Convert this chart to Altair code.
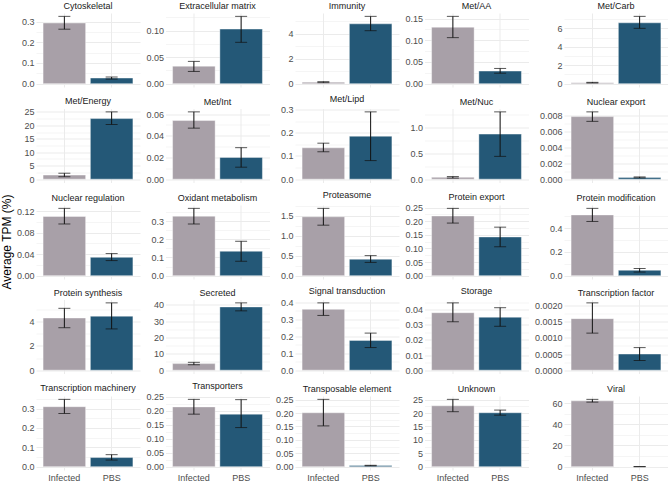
import altair as alt
import pandas as pd

categories = [
    "Cytoskeletal", "Extracellular matrix", "Immunity", "Met/AA", "Met/Carb",
    "Met/Energy", "Met/Int", "Met/Lipd", "Met/Nuc", "Nuclear export",
    "Nuclear regulation", "Oxidant metabolism", "Proteasome", "Protein export", "Protein modification",
    "Protein synthesis", "Secreted", "Signal transduction", "Storage", "Transcription factor",
    "Transcription machinery", "Transporters", "Transposable element", "Unknown", "Viral",
]

groups = ["Infected", "PBS"]

inf_mean = [0.293, 0.033, 0.12, 0.130, 0.10,
            1.5, 0.054, 0.135, 0.035, 0.0079,
            0.110, 0.327, 1.47, 0.219, 0.51,
            4.3, 4.0, 0.358, 0.038, 0.0016,
            0.31, 0.214, 0.201, 22.7, 62.2]
inf_lo = [0.263, 0.023, 0.08, 0.106, 0.07,
          0.9, 0.047, 0.118, 0.02, 0.0073,
          0.096, 0.284, 1.26, 0.193, 0.455,
          3.5, 3.3, 0.322, 0.032, 0.00115,
          0.275, 0.188, 0.152, 20.5, 61.0]
inf_hi = [0.325, 0.042, 0.16, 0.155, 0.14,
          2.2, 0.062, 0.155, 0.05, 0.0085,
          0.125, 0.370, 1.68, 0.247, 0.565,
          5.1, 4.8, 0.396, 0.0445, 0.00209,
          0.348, 0.241, 0.251, 25.1, 63.6]
pbs_mean = [0.027, 0.103, 4.8, 0.029, 6.6,
            22.5, 0.020, 0.185, 0.87, 0.00022,
            0.034, 0.134, 0.41, 0.142, 0.045,
            4.45, 38.8, 0.175, 0.035, 0.0005,
            0.047, 0.188, 0.004, 20.1, 0.0]
pbs_lo = [0.022, 0.078, 4.25, 0.024, 6.0,
          20.3, 0.011, 0.08, 0.44, 0.00016,
          0.028, 0.079, 0.33, 0.106, 0.03,
          3.4, 36.4, 0.133, 0.029, 0.0003,
          0.034, 0.14, 0.003, 19.2, 0.0]
pbs_hi = [0.032, 0.127, 5.4, 0.035, 7.3,
          25.0, 0.029, 0.29, 1.30, 0.00028,
          0.041, 0.189, 0.50, 0.178, 0.06,
          5.55, 41.3, 0.218, 0.0413, 0.0007,
          0.062, 0.24, 0.005, 21.1, 0.0]

tick_values = [
    [0, 0.1, 0.2, 0.3], [0, 0.05, 0.10], [0, 2, 4], [0, 0.05, 0.10, 0.15], [0, 2, 4, 6],
    [0, 5, 10, 15, 20, 25], [0, 0.02, 0.04, 0.06], [0, 0.1, 0.2, 0.3], [0, 0.5, 1.0], [0, 0.002, 0.004, 0.006, 0.008],
    [0, 0.04, 0.08, 0.12], [0, 0.1, 0.2, 0.3], [0, 0.5, 1.0, 1.5], [0, 0.05, 0.10, 0.15, 0.20, 0.25], [0, 0.2, 0.4],
    [0, 2, 4], [0, 10, 20, 30, 40], [0, 0.1, 0.2, 0.3, 0.4], [0, 0.01, 0.02, 0.03, 0.04], [0, 0.0005, 0.0010, 0.0015, 0.0020],
    [0, 0.1, 0.2, 0.3], [0, 0.05, 0.10, 0.15, 0.20, 0.25], [0, 0.05, 0.10, 0.15, 0.20, 0.25], [0, 5, 10, 15, 20, 25], [0, 20, 40, 60],
]
tick_decimals = [1, 2, 0, 2, 0,
                 0, 2, 1, 1, 3,
                 2, 1, 1, 2, 1,
                 0, 0, 1, 2, 4,
                 1, 2, 2, 0, 0]

y_title = "Average TPM (%)"

colors = ["#A8A0A8", "#245877"]
FONT = "Liberation Sans"
GRID = "#EBEBEB"
W, H = 104, 74
YPAD = H * 0.05 / 1.1

charts = []
for i, cat in enumerate(categories):
    df = pd.DataFrame({
        "group": groups,
        "mean": [inf_mean[i], pbs_mean[i]],
        "lo": [inf_lo[i], pbs_lo[i]],
        "hi": [inf_hi[i], pbs_hi[i]],
    })
    majors = [round(v, 10) for v in tick_values[i]]
    step = majors[1] - majors[0]
    top = max(inf_hi[i], pbs_hi[i]) * 1.05
    minors = [round(m + step / 2, 10) for m in majors if m + step / 2 <= top]
    allv = sorted(majors + minors)
    minor_list = "[" + ",".join(repr(v) for v in minors) + "]"
    is_minor = f"indexof({minor_list}, datum.value) >= 0"
    label_expr = f"{is_minor} ? '' : format(datum.value, '.{tick_decimals[i]}f')"
    row, col = divmod(i, 5)
    bottom = row == 4

    yaxis = alt.Axis(
        title=None, values=allv, labelExpr=label_expr, grid=True, gridColor=GRID,
        gridWidth={"condition": {"test": is_minor, "value": 0.5}, "value": 1.0},
        ticks=False, tickSize=0, domain=False, labelFontSize=9, labelFont=FONT,
        labelColor="#4D4D4D", labelPadding=2, labelOverlap=False, labelFlush=False,
    )
    yscale = alt.Scale(zero=True, nice=False, padding=YPAD)

    xaxis = alt.Axis(title=None, labels=bottom, ticks=False, tickSize=0, domain=False,
                     grid=True, gridColor=GRID, gridWidth=1.0, bandPosition=0.5,
                     labelAngle=0, labelFontSize=9, labelFont=FONT, labelColor="#4D4D4D",
                     labelPadding=3)
    X = alt.X("group:N", sort=groups, axis=xaxis,
              scale=alt.Scale(paddingInner=0.1, paddingOuter=0.15))

    base = alt.Chart(df)
    bar = base.mark_bar(stroke="white", strokeWidth=0.4).encode(
        x=X,
        y=alt.Y("mean:Q", axis=yaxis, scale=yscale),
        color=alt.Color("group:N", scale=alt.Scale(domain=groups, range=colors), legend=None),
    )
    rule = base.mark_rule(color="#111111", strokeWidth=1).encode(
        x=X, y=alt.Y("lo:Q", axis=yaxis, scale=yscale), y2="hi:Q",
    )
    cap_hi = base.mark_tick(color="#111111", size=12, thickness=1).encode(
        x=X, y=alt.Y("hi:Q", axis=yaxis, scale=yscale),
    )
    cap_lo = base.mark_tick(color="#111111", size=12, thickness=1).encode(
        x=X, y=alt.Y("lo:Q", axis=yaxis, scale=yscale),
    )
    panel = alt.layer(bar, rule, cap_hi, cap_lo).properties(
        width=W, height=H,
        title=alt.TitleParams(text=cat, font=FONT, fontSize=9, fontWeight="normal",
                              color="#1A1A1A", anchor="middle", offset=2),
    )
    charts.append(panel)

chart = alt.concat(*charts, columns=5, spacing={"row": 5.5, "column": 5.5}, align="each").resolve_scale(
    x="independent", y="independent"
).properties(
    title=alt.TitleParams(text=y_title, orient="left", anchor="middle", font=FONT,
                          fontSize=12, fontWeight="normal", color="#000000", offset=2),
    padding={"left": 1, "top": 2, "right": 0, "bottom": 0},
    background="white",
).configure_view(strokeWidth=0)

chart.save("out.html", embed_options={"renderer": "svg", "actions": False})
